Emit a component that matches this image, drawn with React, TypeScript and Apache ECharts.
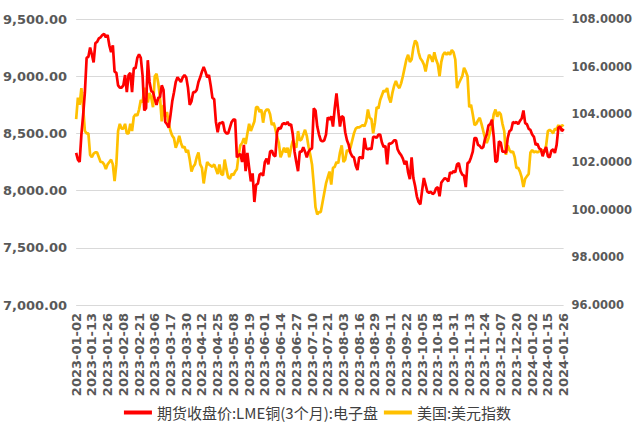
import React, { useEffect, useRef } from "react";
import * as echarts from "echarts";

const startDate = "2023-01-02";
const endDate = "2024-01-26";

const copper = [
  8330, 8270, 8250, 8490, 8660, 8860, 9160, 9170, 9250, 9190,
  9120, 9290, 9300, 9330, 9340, 9360, 9370, 9340, 9360, 9270,
  9210, 9270, 9040, 9030, 8920, 8900, 8900, 8920, 9010, 8860,
  9010, 9030, 8860, 9070, 9070, 9160, 9190, 9160, 9010, 8700,
  8720, 9140, 8950, 8870, 8860, 8800, 8750, 8810, 8820, 8920,
  8880, 8600, 8580, 8550, 8660, 8780, 8860, 8950, 8990, 8970,
  8950, 8990, 9010, 8990, 8900, 8750, 8780, 8860, 8860, 8880,
  8950, 8990, 9040, 9080, 9040, 8990, 9010, 8920, 8810, 8800,
  8600, 8510, 8590, 8590, 8600, 8520, 8500, 8500, 8550, 8600,
  8620, 8620, 8290, 8310, 8320, 8250, 8400, 8170, 8330, 8200,
  8080, 8150, 7900, 8050, 8060, 8140, 8150, 8130, 8250, 8280,
  8230, 8340, 8350, 8310, 8300, 8510, 8550, 8540, 8580, 8590,
  8580, 8600, 8570, 8580, 8490, 8340, 8250, 8170, 8340, 8340,
  8380, 8340, 8290, 8340, 8360, 8370, 8720, 8700, 8560, 8490,
  8440, 8430, 8440, 8490, 8640, 8620, 8650, 8560, 8720, 8850,
  8700, 8560, 8650, 8640, 8510, 8440, 8400, 8330, 8300, 8290,
  8220, 8180, 8290, 8290, 8280, 8460, 8370, 8360, 8370, 8360,
  8470, 8470, 8460, 8490, 8490, 8420, 8380, 8390, 8230, 8410,
  8410, 8420, 8440, 8440, 8360, 8330, 8310, 8280, 8230, 8260,
  8160, 8100, 8290, 8110, 8040, 7950, 7900, 7880, 8000, 8110,
  8050, 7990, 7980, 7990, 7970, 7980, 8020, 8030, 7950, 8070,
  8090, 8110, 8100, 8080, 8160, 8150, 8170, 8160, 8230, 8240,
  8170, 8140, 8130, 8030, 8240, 8250, 8290, 8340, 8460, 8460,
  8400, 8390, 8370, 8380, 8450, 8490, 8570, 8580, 8620, 8470,
  8250, 8260, 8430, 8420, 8340, 8340, 8330, 8460, 8520, 8530,
  8600, 8590, 8600, 8580, 8610, 8630, 8700, 8590, 8580, 8540,
  8530, 8490, 8470, 8400, 8410, 8370, 8360, 8300, 8350, 8380,
  8300, 8290, 8350, 8360, 8330, 8400, 8550, 8560, 8520, 8540,
];

const dxy = [
  103.8, 104.7, 104.4, 105.1, 104.3, 103.3, 103.2, 103.2, 102.3, 102.2,
  102.35, 102.4, 102.4, 102.2, 102.0, 102.0, 101.9, 101.7, 101.9, 102.0,
  102.1, 101.9, 101.2, 101.9, 103.3, 103.6, 103.4, 103.4, 103.6, 103.2,
  103.2, 103.6, 103.3, 103.9, 104.0, 103.95, 104.2, 104.6, 104.5, 105.1,
  105.0, 104.5, 104.9, 104.7, 104.3, 105.6, 105.7, 105.3, 104.7, 103.7,
  104.4, 103.9, 104.1, 103.6, 103.3, 103.1, 103.0, 102.6, 102.8, 103.1,
  102.8, 102.6, 102.65, 102.4, 102.5, 102.1, 101.6, 101.8, 101.9, 102.2,
  102.4, 101.9, 101.75, 101.1, 101.6, 102.0, 101.9, 101.85, 101.8, 101.9,
  101.7, 101.5, 101.9, 101.5, 101.45, 102.1, 101.7, 101.35, 101.3, 101.5,
  101.45, 101.6, 101.7, 102.3, 102.7, 102.8, 103.0, 102.75, 103.2, 103.6,
  103.3, 103.5, 103.7, 104.3, 104.3, 104.1, 104.2, 103.65, 104.1, 104.2,
  104.2, 104.0, 103.55, 103.65, 103.4, 103.05, 102.8, 102.2, 102.4, 102.6,
  102.4, 102.6, 102.2, 102.6, 102.9, 102.7, 102.6, 103.3, 102.9, 102.95,
  103.15, 103.35, 103.1, 102.65, 102.3, 101.9, 101.05, 100.1, 99.8, 99.9,
  99.9, 100.3, 100.7, 101.1, 101.35, 101.6, 101.05, 101.75, 101.8, 102.0,
  101.95, 102.4, 102.7, 102.0, 102.1, 102.5, 102.45, 102.6, 102.9, 103.2,
  103.4, 103.45, 103.45, 103.5, 103.55, 103.5, 103.7, 104.2, 103.85, 103.8,
  103.2, 103.65, 104.3, 104.25, 104.6, 104.8, 105.0, 104.95, 105.1, 104.7,
  104.5, 104.9, 105.2, 105.4, 105.2, 105.1, 105.3, 105.6, 105.95, 106.3,
  106.5, 106.2, 106.3, 106.8, 107.1, 107.0, 106.6, 106.35, 106.25, 106.1,
  105.8, 106.2, 106.5, 106.4, 106.2, 106.6, 106.3, 106.1, 105.6, 106.2,
  106.5, 106.6, 106.5, 106.6, 106.5, 106.7, 106.6, 106.3, 105.1, 105.3,
  105.45, 105.6, 105.95, 105.8, 105.6, 104.3, 104.4, 104.0, 103.55, 103.6,
  103.75, 103.85, 103.6, 103.3, 103.0, 102.8, 103.0, 103.3, 103.55, 104.0,
  104.2, 103.9, 104.1, 104.0, 103.6, 103.3, 102.3, 102.7, 102.5, 102.4,
  102.45, 102.2, 101.75, 101.75, 101.6, 101.35, 100.95, 101.3, 101.4, 101.5,
  102.4, 102.5, 102.4, 102.45, 102.4, 102.45, 102.5, 102.5, 102.4, 102.7,
  103.3, 103.35, 103.3, 103.2, 103.4, 103.35, 103.55, 103.4, 103.55, 103.5,
];

const seriesNames = ["期货收盘价:LME铜(3个月):电子盘", "美国:美元指数"];
const leftTicks = { min: 7000, max: 9500, interval: 500 };
const rightTicks = { min: 96, max: 108, interval: 2 };

function weekdays(from: string, to: string): string[] {
  const out: string[] = [];
  const d = new Date(from + "T00:00:00Z");
  const end = new Date(to + "T00:00:00Z");
  while (d <= end) {
    const wd = d.getUTCDay();
    if (wd !== 0 && wd !== 6) out.push(d.toISOString().slice(0, 10));
    d.setUTCDate(d.getUTCDate() + 1);
  }
  return out;
}

const categories = weekdays(startDate, endDate);

export default function App() {
  const ref = useRef<HTMLDivElement>(null);
  useEffect(() => {
    if (!ref.current) return;
    const chart = echarts.init(ref.current, undefined, { renderer: "svg" });
    const axisLabelStyle = {
      color: "#595959",
      fontSize: 13,
      fontWeight: "bold" as const,
      fontFamily: "DejaVu Sans",
    };
    chart.setOption({
      animation: false,
      backgroundColor: "#ffffff",
      grid: { left: 76, right: 71, top: 19, bottom: 120, containLabel: false },
      legend: {
        bottom: 0,
        left: "center",
        itemWidth: 28,
        itemHeight: 4,
        itemGap: 6,
        icon: "rect",
        textStyle: {
          color: "#404040",
          fontSize: 15,
          fontFamily: "Noto Sans CJK SC",
        },
        data: seriesNames,
      },
      xAxis: {
        type: "category",
        data: categories,
        boundaryGap: false,
        axisLine: { show: false },
        axisTick: { show: false },
        axisLabel: { ...axisLabelStyle, rotate: 90, interval: 8, margin: 8 },
      },
      yAxis: [
        {
          type: "value",
          ...leftTicks,
          axisLine: { show: false },
          axisTick: { show: false },
          splitLine: { lineStyle: { color: "#d9d9d9", width: 1 } },
          axisLabel: {
            ...axisLabelStyle,
            margin: 9,
            formatter: (v: number) =>
              v.toLocaleString("en-US", { minimumFractionDigits: 2, maximumFractionDigits: 2 }),
          },
        },
        {
          type: "value",
          ...rightTicks,
          position: "right",
          axisLine: { show: false },
          axisTick: { show: false },
          splitLine: { show: false },
          axisLabel: {
            ...axisLabelStyle,
            fontSize: 11.5,
            margin: 8,
            formatter: (v: number) => v.toFixed(4),
          },
        },
      ],
      series: [
        {
          name: seriesNames[0],
          type: "line",
          yAxisIndex: 0,
          data: copper,
          showSymbol: false,
          symbol: "none",
          lineStyle: { color: "#ff0000", width: 2.7 },
          itemStyle: { color: "#ff0000" },
        },
        {
          name: seriesNames[1],
          type: "line",
          yAxisIndex: 1,
          data: dxy,
          showSymbol: false,
          symbol: "none",
          lineStyle: { color: "#ffc000", width: 2.7 },
          itemStyle: { color: "#ffc000" },
          z: 1,
        },
      ],
    });
    return () => chart.dispose();
  }, []);
  return (
    <div
      ref={ref}
      style={{ position: "absolute", left: 0, top: 0, width: 635, height: 425 }}
    />
  );
}
